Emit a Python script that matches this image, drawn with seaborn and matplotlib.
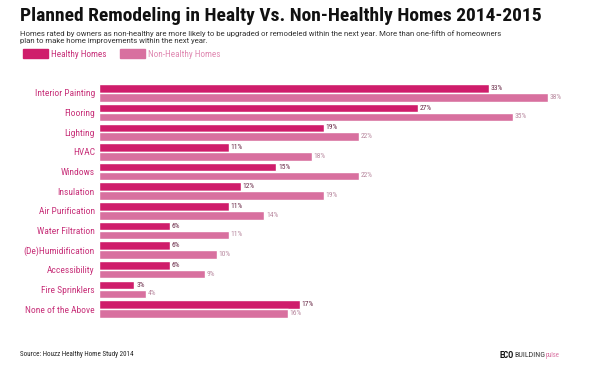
import pandas as pd
import matplotlib.pyplot as plt
import seaborn as sns

categories = ['Interior Painting', 'Flooring', 'Lighting', 'HVAC', 'Windows', 'Insulation',
              'Air Purification', 'Water Filtration', '(De)Humidification', 'Accessibility',
              'Fire Sprinklers', 'None of the Above']
healthy = [33, 27, 19, 11, 15, 12, 11, 6, 6, 6, 3, 17]
non_healthy = [38, 35, 22, 18, 22, 19, 14, 11, 10, 9, 4, 16]
series = ['Healthy Homes', 'Non-Healthy Homes']
colors = ['#cf1d6b', '#d8709f']

df = pd.DataFrame({
    'category': categories * 2,
    'value': healthy + non_healthy,
    'group': [series[0]] * len(categories) + [series[1]] * len(categories),
})

sns.set_style('white')
narrow = ['Roboto Condensed', 'Roboto', 'DejaVu Sans']
plt.rcParams['font.family'] = narrow

fig = plt.figure(figsize=(6.03, 3.66), dpi=100)
ax = fig.add_axes([99 / 603, 1 - 318 / 366, 491 / 603, 234 / 366])

sns.barplot(data=df, y='category', x='value', hue='group', palette=colors,
            orient='h', width=0.9, gap=0.04, legend=False, ax=ax, saturation=1)

ax.set_xlim(0, 38 * 491 / 449)
ax.set_ylim(11.45, -0.45)
ax.set_xlabel('')
ax.set_ylabel('')
ax.set_xticks([])
sns.despine(ax=ax, left=True, bottom=True)
ax.tick_params(axis='y', length=0, pad=3)
for lab in ax.get_yticklabels():
    lab.set_color('#c8327a')
    lab.set_fontsize(6.8)

# percentage labels at bar ends
label_colors = ['#6a2a48', '#b98aa0']
for cont, lc in zip(ax.containers, label_colors):
    ax.bar_label(cont, labels=[f'{int(v)}%' for v in cont.datavalues],
                 padding=1.2, fontsize=5.4, color=lc)

fig.text(20 / 603, 1 - 16 / 366, 'Planned Remodeling in Healty Vs. Non-Healthly Homes 2014-2015',
         fontsize=14, fontweight='black', color='#111111', va='center')
fig.text(20 / 603, 1 - 37 / 366,
         'Homes rated by owners as non-healthy are more likely to be upgraded or remodeled within the next year. '
         'More than one-fifth of homeowners\nplan to make home improvements within the next year.',
         fontsize=5.6, color='#333333', va='center', linespacing=1.3, family=['Roboto', 'DejaVu Sans'])

handles = [plt.Rectangle((0, 0), 1, 1, color=c) for c in colors]
leg = fig.legend(handles, series, loc='center left', bbox_to_anchor=(15 / 603, 1 - 54 / 366),
                 ncol=2, frameon=False, handlelength=2.7, handleheight=1.0,
                 handletextpad=0.33, columnspacing=1.5, prop={'size': 6.6})
for t, c in zip(leg.get_texts(), ['#c8327a', '#e08ab2']):
    t.set_color(c)

fig.text(20 / 603, 1 - 355 / 366, 'Source: Houzz Healthy Home Study 2014',
         fontsize=5, color='#222222', va='center')
eco = fig.text(500 / 603, 1 - 355 / 366, 'ECO', fontsize=6.2, fontweight='black', color='#111111',
               va='center')
bld = ax.annotate('BUILDING', xy=(1, 0.5), xycoords=eco, va='center', ha='left',
                  fontsize=5.8, color='#333333', annotation_clip=False)
ax.annotate('pulse', xy=(1, 0.4), xycoords=bld, va='center', ha='left',
            fontsize=4.8, color='#d870a0', annotation_clip=False)

fig.savefig('out.png', dpi=100)
